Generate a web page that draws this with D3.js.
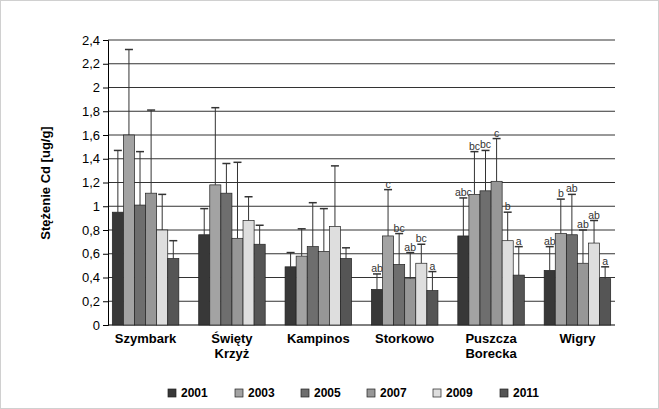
<!DOCTYPE html><html><head><meta charset="utf-8"><script src="https://cdn.jsdelivr.net/npm/d3@7"></script>
<style>body{margin:0;background:#fff}svg{font-family:"Liberation Sans",Arial,sans-serif}</style></head><body><svg id="c" width="659" height="409"></svg>
<script>
const categories=["Szymbark","Święty\nKrzyż","Kampinos","Storkowo","Puszcza\nBorecka","Wigry"];
const years=["2001","2003","2005","2007","2009","2011"];
const values=[[0.95,1.6,1.01,1.11,0.8,0.56],[0.76,1.18,1.11,0.73,0.88,0.68],[0.49,0.58,0.66,0.62,0.83,0.56],[0.30,0.75,0.51,0.39,0.52,0.29],[0.75,1.1,1.13,1.21,0.71,0.42],[0.46,0.77,0.76,0.52,0.69,0.39]];
const errTop=[[1.47,2.32,1.46,1.81,1.1,0.71],[0.98,1.83,1.36,1.37,1.08,0.84],[0.61,0.81,1.03,0.98,1.34,0.65],[0.43,1.14,0.77,0.61,0.68,0.45],[1.07,1.46,1.47,1.57,0.95,0.66],[0.66,1.06,1.10,0.80,0.88,0.49]];
const letters=[null,null,null,["ab","c","bc","ab","bc","a"],["abc","bc","bc","c","b","a"],["ab","b","ab","ab","ab","a"]];
const yTicks=[0,0.2,0.4,0.6,0.8,1,1.2,1.4,1.6,1.8,2,2.2,2.4];
const colors=["#383838","#a3a3a3","#6e6e6e","#979797","#dedede","#555555"];
const svg=d3.select("#c");
svg.append("rect").attr("x",0.5).attr("y",0.5).attr("width",658).attr("height",408).attr("fill","#fff").attr("stroke","#d0d0d0");
const y=d3.scaleLinear().domain([0,2.4]).range([325,40]);
const x0=d3.scaleBand().domain(categories).range([108,615]).paddingInner(0.23).paddingOuter(0.05);
const x1=d3.scaleBand().domain(years).range([0,x0.bandwidth()]);
svg.append("g").selectAll("line").data(yTicks.slice(1)).join("line").attr("x1",108).attr("x2",615).attr("y1",d=>y(d)).attr("y2",d=>y(d)).attr("stroke","#333").attr("stroke-width",1);
const ya=svg.append("g").attr("transform","translate(108,0)").call(d3.axisLeft(y).tickValues(yTicks).tickSize(5).tickFormat(d=>String(d).replace(".",",")));
ya.selectAll("text").attr("font-size",13).attr("fill","#000");ya.select(".domain").attr("stroke","#000");
svg.append("line").attr("x1",108).attr("x2",615).attr("y1",325).attr("y2",325).attr("stroke","#000");
categories.forEach((c,i)=>{
 const g=svg.append("g").attr("transform",`translate(${x0(c)},0)`);
 years.forEach((yr,j)=>{
  const bx=x1(yr),bw=x1.bandwidth(),cx=bx+bw/2;
  g.append("line").attr("x1",cx).attr("x2",cx).attr("y1",y(values[i][j])).attr("y2",y(errTop[i][j])).attr("stroke","#333");
  g.append("line").attr("x1",cx-4).attr("x2",cx+4).attr("y1",y(errTop[i][j])).attr("y2",y(errTop[i][j])).attr("stroke","#333").attr("stroke-width",1.5);
  g.append("rect").attr("x",bx).attr("width",bw).attr("y",y(values[i][j])).attr("height",325-y(values[i][j])).attr("fill",colors[j]).attr("stroke","#222").attr("stroke-width",0.7);
  if(letters[i]) g.append("text").attr("x",cx).attr("y",y(errTop[i][j])-2).attr("text-anchor","middle").attr("font-size",10.5).attr("fill","#333").text(letters[i][j]);
 });
 c.split("\n").forEach((t,k)=>svg.append("text").attr("x",x0(c)+x0.bandwidth()/2).attr("y",343+k*15).attr("text-anchor","middle").attr("font-size",13).attr("font-weight","bold").text(t));
});
svg.append("text").attr("transform","translate(50,183) rotate(-90)").attr("text-anchor","middle").attr("font-size",13).attr("font-weight","bold").text("Stężenie Cd [ug/g]");
const lx=[168,235,301,367,433,500];
years.forEach((yr,j)=>{
 svg.append("rect").attr("x",lx[j]).attr("y",389).attr("width",8).attr("height",8).attr("fill",colors[j]).attr("stroke","#222").attr("stroke-width",0.7);
 svg.append("text").attr("x",lx[j]+13).attr("y",397).attr("font-size",12).attr("font-weight","bold").text(yr);
});
</script></body></html>
